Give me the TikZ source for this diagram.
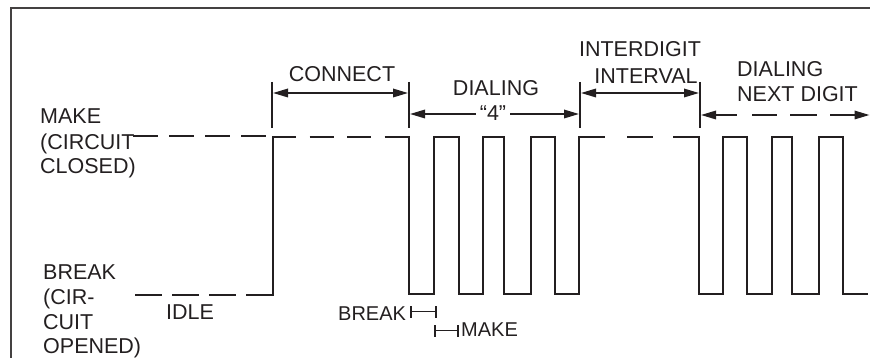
\documentclass[tikz,border=0pt]{standalone}
\usepackage{fontspec}
\setmainfont{Liberation Sans}
\usetikzlibrary{arrows.meta}
\definecolor{ink}{RGB}{35,31,32}
\begin{document}
\begin{tikzpicture}[x=1pt,y=-1pt,
  wave/.style={draw=ink, line width=2pt, line join=miter},
  tick/.style={draw=ink, line width=2pt},
  dimboth/.style={draw=ink, line width=1.7pt, {Triangle[length=15pt,width=8.5pt]}-{Triangle[length=15pt,width=8.5pt]}},
  dimleft/.style={draw=ink, line width=1.7pt, {Triangle[length=15pt,width=8.5pt]}-},
  dimright/.style={draw=ink, line width=1.7pt, -{Triangle[length=15pt,width=8.5pt]}},
  dimplain/.style={draw=ink, line width=1.7pt},
  brk/.style={draw=ink, line width=1.6pt},
  lbl/.style={font=\fontsize{21.5}{25}\selectfont, text=ink, inner sep=0pt, anchor=base west},
  clbl/.style={font=\fontsize{21.5}{25}\selectfont, text=ink, inner sep=0pt, anchor=base},
  small/.style={font=\fontsize{20}{22}\selectfont, text=ink, inner sep=0pt, anchor=base west},
  frame/.style={draw=ink!85, line width=1.1pt}]
\useasboundingbox (0,0) rectangle (870,358);

% frame
\draw[frame] (11,380) -- (11,8) -- (900,8);

% left labels
\node[lbl] (mk1) at (40,124) {MAKE};
\node[lbl] (mk2) at (40,149.5) {(CIRCUIT};
\node[lbl] (mk3) at (40,174) {CLOSED)};
\node[lbl] (bk1) at (43,279.5) {BREAK};
\node[lbl] (bk2) at (43,304.5) {(CIR-};
\node[lbl] (bk3) at (43,329) {CUIT};
\node[lbl] (bk4) at (43,353.5) {OPENED)};
\node[clbl] (idle) at (190,319.3) {IDLE};

% waveform: idle and make dashes
\draw[wave, dash pattern=on 25pt off 11pt] (133,136) -- (267,136);
\draw[wave, dash pattern=on 26.5pt off 10.5pt] (135,295) -- (236,295);
\draw[wave] (246,295) -- (273,295) -- (273,137.5) -- (296,137.5);
\draw[wave] (309.5,137.5) -- (333.5,137.5);
\draw[wave] (347,137.5) -- (371,137.5);
% dialing 4
\draw[wave] (384.5,137.5) -- (409,137.5) -- (409,294) -- (434,294) -- (434,137.5)
  -- (459,137.5) -- (459,294) -- (483,294) -- (483,137.5) -- (504,137.5)
  -- (504,294) -- (531,294) -- (531,137.5) -- (555,137.5) -- (555,294)
  -- (579,294) -- (579,137.5) -- (605,137.5);
\draw[wave] (627,137.5) -- (653,137.5);
% next digit
\draw[wave] (673,137.5) -- (699,137.5) -- (699,294) -- (723,294) -- (723,137.5)
  -- (747,137.5) -- (747,294) -- (772,294) -- (772,137.5) -- (792,137.5)
  -- (792,294) -- (819,294) -- (819,137.5) -- (843,137.5) -- (843,294)
  -- (868,294);

% markers
\coordinate (m1t) at (272,82);  \coordinate (m1b) at (272,128);
\coordinate (m2t) at (409,82);  \coordinate (m2b) at (409,128);
\coordinate (m3t) at (580,82);  \coordinate (m3b) at (580,128);
\coordinate (m4t) at (700,82);  \coordinate (m4b) at (700,128);
\draw[tick] (m1t) -- (m1b);
\draw[tick] (m2t) -- (m2b);
\draw[tick] (m3t) -- (m3b);
\draw[tick] (m4t) -- (m4b);

% connect
\node[clbl] (connect) at (342,81.5) {CONNECT};
\coordinate (c1) at (273,93);
\coordinate (c2) at (408,93);
\draw[dimboth] (c1) -- (c2);

% dialing 4
\node[clbl] (dial) at (496,95.3) {DIALING};
\node[clbl, inner xsep=4pt] (four) at (493,120.5) {“4”};
\coordinate (d1) at (410,114);
\coordinate (d2) at (579,114);
\draw[dimleft] (d1) -- (d1 -| four.west);
\draw[dimright] (d2 -| four.east) -- (d2);

% interdigit
\node[clbl] (inter1) at (640,56.7) {INTERDIGIT};
\node[clbl] (inter2) at (646,83.3) {INTERVAL};
\coordinate (i1) at (581,93);
\coordinate (i2) at (699,93);
\draw[dimboth] (i1) -- (i2);

% dialing next digit
\node[lbl] (nd1) at (737,76.7) {DIALING};
\node[lbl] (nd2) at (737,101.7) {NEXT DIGIT};
\coordinate (n1) at (701,115);
\coordinate (n2) at (737,115);
\coordinate (n3) at (752,115);
\coordinate (n4) at (777,115);
\coordinate (n5) at (790,115);
\coordinate (n6) at (817,115);
\coordinate (n7) at (830,115);
\coordinate (n8) at (869.5,115);
\draw[dimleft] (n1) -- (n2);
\draw[dimplain] (n3) -- (n4);
\draw[dimplain] (n5) -- (n6);
\draw[dimright] (n7) -- (n8);

% break / make brackets
\node[small] (sbreak) at (338,320) {BREAK};
\coordinate (b1) at (411,311.5);
\coordinate (b2) at (436,311.5);
\draw[brk] (b1) -- (b2);
\draw[brk] ([yshift=-6pt]b1) -- ([yshift=6pt]b1);
\draw[brk] ([yshift=-6pt]b2) -- ([yshift=6pt]b2);
\coordinate (k1) at (435,330.5);
\coordinate (k2) at (458,330.5);
\draw[brk] (k1) -- (k2);
\draw[brk] ([yshift=-6pt]k1) -- ([yshift=6pt]k1);
\draw[brk] ([yshift=-6pt]k2) -- ([yshift=6pt]k2);
\node[small] (smake) at (461,336.7) {MAKE};
\end{tikzpicture}
\end{document}
